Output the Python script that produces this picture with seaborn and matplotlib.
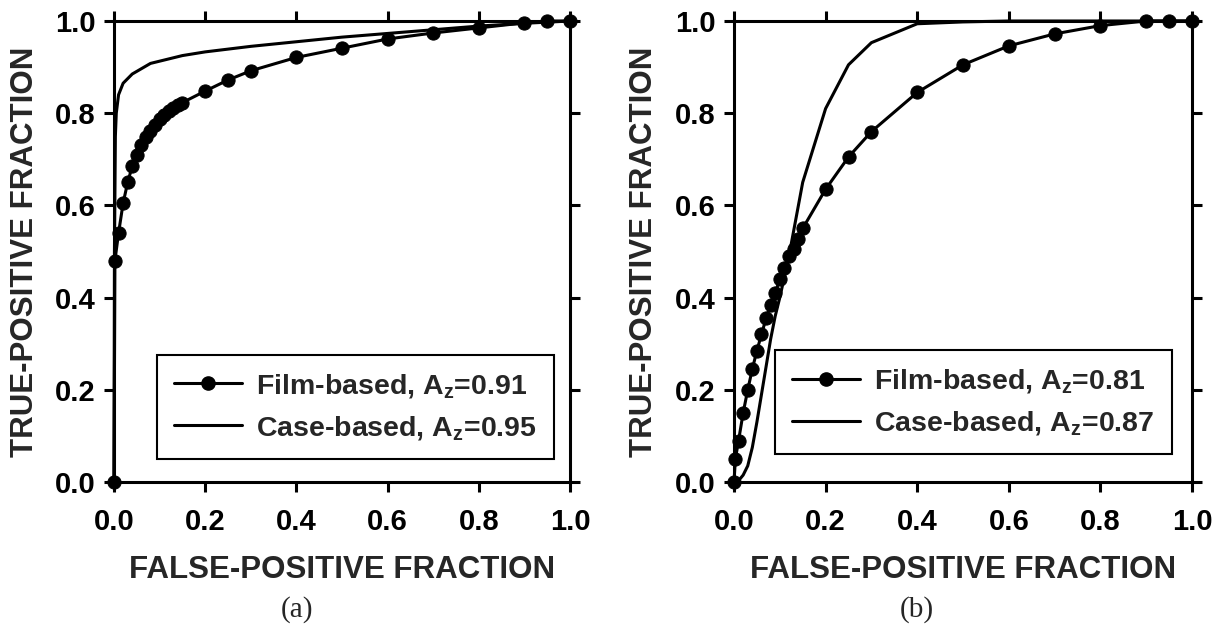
import matplotlib
matplotlib.use("Agg")
import matplotlib.pyplot as plt
import seaborn as sns
from matplotlib.lines import Line2D

# ---------------- data ----------------
film_a_fpf = [0.0, 0.002, 0.01, 0.02, 0.03, 0.04, 0.05, 0.06, 0.07, 0.08, 0.09, 0.10,
              0.11, 0.12, 0.13, 0.14, 0.15, 0.20, 0.25, 0.30, 0.40, 0.50, 0.60, 0.70,
              0.80, 0.90, 0.95, 1.00]
film_a_tpf = [0.0, 0.48, 0.54, 0.605, 0.65, 0.685, 0.71, 0.73, 0.748, 0.762, 0.775, 0.787,
              0.797, 0.805, 0.812, 0.818, 0.823, 0.848, 0.872, 0.892, 0.921, 0.941, 0.961, 0.974,
              0.985, 0.996, 1.0, 1.0]
case_a_fpf = [0.0, 0.001, 0.003, 0.005, 0.01, 0.02, 0.04, 0.08, 0.15, 0.20, 0.30, 0.40,
              0.50, 0.60, 0.70, 0.80, 0.90, 1.00]
case_a_tpf = [0.0, 0.50, 0.75, 0.80, 0.84, 0.865, 0.885, 0.908, 0.925, 0.933, 0.945, 0.955,
              0.965, 0.973, 0.981, 0.989, 0.995, 1.0]

film_b_fpf = [0.0, 0.003, 0.01, 0.02, 0.03, 0.04, 0.05, 0.06, 0.07, 0.08, 0.09, 0.10,
              0.11, 0.12, 0.13, 0.14, 0.15, 0.20, 0.25, 0.30, 0.40, 0.50, 0.60, 0.70,
              0.80, 0.90, 0.95, 1.00]
film_b_tpf = [0.0, 0.05, 0.09, 0.15, 0.20, 0.245, 0.285, 0.32, 0.355, 0.385, 0.41, 0.44,
              0.465, 0.49, 0.505, 0.527, 0.55, 0.635, 0.705, 0.76, 0.845, 0.905, 0.946, 0.972,
              0.99, 1.0, 1.0, 1.0]
case_b_fpf = [0.0, 0.01, 0.02, 0.03, 0.04, 0.05, 0.06, 0.07, 0.08, 0.09, 0.10, 0.12,
              0.15, 0.20, 0.25, 0.30, 0.40, 0.50, 0.60, 0.80, 1.00]
case_b_tpf = [0.0, 0.003, 0.015, 0.035, 0.075, 0.13, 0.19, 0.25, 0.31, 0.36, 0.40, 0.49,
              0.65, 0.81, 0.905, 0.953, 0.994, 0.998, 1.0, 1.0, 1.0]

ticks = [0.0, 0.2, 0.4, 0.6, 0.8, 1.0]
tick_labels = ["0.0", "0.2", "0.4", "0.6", "0.8", "1.0"]
film_labels = [r"Film-based, A$_{\mathbf{z}}$=0.91", r"Film-based, A$_{\mathbf{z}}$=0.81"]
case_labels = [r"Case-based, A$_{\mathbf{z}}$=0.95", r"Case-based, A$_{\mathbf{z}}$=0.87"]
panel_labels = ["(a)", "(b)"]
x_title = "FALSE-POSITIVE FRACTION"
y_title = "TRUE-POSITIVE FRACTION"

# ---------------- style ----------------
sns.set_style("ticks")
plt.rcParams["font.family"] = ["Liberation Sans", "DejaVu Sans"]
plt.rcParams["font.weight"] = "bold"
plt.rcParams["mathtext.fontset"] = "custom"
plt.rcParams["mathtext.rm"] = "Liberation Sans:bold"
plt.rcParams["mathtext.bf"] = "Liberation Sans:bold"
plt.rcParams["mathtext.it"] = "Liberation Sans:bold"

W, H = 1224, 625
fig = plt.figure(figsize=(W / 100, H / 100), dpi=100)
fig.patch.set_facecolor("white")

axes = [
    fig.add_axes([114 / W, 1 - 482 / H, 456 / W, 461 / H]),
    fig.add_axes([734 / W, 1 - 482 / H, 458 / W, 461 / H]),
]

datasets = [
    (film_a_fpf, film_a_tpf, case_a_fpf, case_a_tpf),
    (film_b_fpf, film_b_tpf, case_b_fpf, case_b_tpf),
]
legend_anchor = [(0.965, 0.05), (0.956, 0.06)]
panel_x = [297, 917]

for i, ax in enumerate(axes):
    ffx, ffy, cfx, cfy = datasets[i]
    sns.lineplot(x=cfx, y=cfy, ax=ax, color="black", linewidth=2.2, sort=False,
                 estimator=None, clip_on=False)
    sns.lineplot(x=ffx, y=ffy, ax=ax, color="black", linewidth=2.2, sort=False,
                 estimator=None, marker="o", markersize=9.5, markeredgecolor="black",
                 markerfacecolor="black", clip_on=False)
    ax.set_xlim(0, 1)
    ax.set_ylim(0, 1)
    ax.set_xticks(ticks)
    ax.set_yticks(ticks)
    ax.set_xticklabels(tick_labels)
    ax.set_yticklabels(tick_labels)
    for sp in ax.spines.values():
        sp.set_visible(True)
        sp.set_linewidth(2.2)
        sp.set_color("black")
    ax.tick_params(direction="out", length=7, width=2.2, colors="black",
                   labelsize=21, pad=6, top=True, right=True)
    ax.tick_params(axis="x", pad=12)
    for lab in ax.get_xticklabels() + ax.get_yticklabels():
        lab.set_fontweight("bold")
    ax.set_xlabel(x_title, fontsize=22.5, fontweight="bold")
    ax.set_ylabel(y_title, fontsize=22.5, fontweight="bold")
    ax.xaxis.set_label_coords(0.5, -0.158)
    ax.yaxis.set_label_coords(-0.163, 0.5)

    handles = [
        Line2D([], [], color="black", linewidth=2.2, marker="o", markersize=9.5),
        Line2D([], [], color="black", linewidth=2.2),
    ]
    leg = ax.legend(handles, [film_labels[i], case_labels[i]], loc="lower right",
                    bbox_to_anchor=legend_anchor[i], borderaxespad=0, frameon=True,
                    fancybox=False, edgecolor="black", numpoints=1, handlelength=2.4,
                    handletextpad=0.5, borderpad=0.6, labelspacing=0.5,
                    prop={"weight": "bold", "size": 20.5})
    leg.get_frame().set_linewidth(1.5)
    leg.get_frame().set_alpha(1)

    fig.text(panel_x[i] / W, 1 - 610 / H, panel_labels[i], ha="center", va="center",
             fontsize=21, family=["Liberation Serif"], fontweight="normal")

fig.savefig("out.png", dpi=100, facecolor="white")
